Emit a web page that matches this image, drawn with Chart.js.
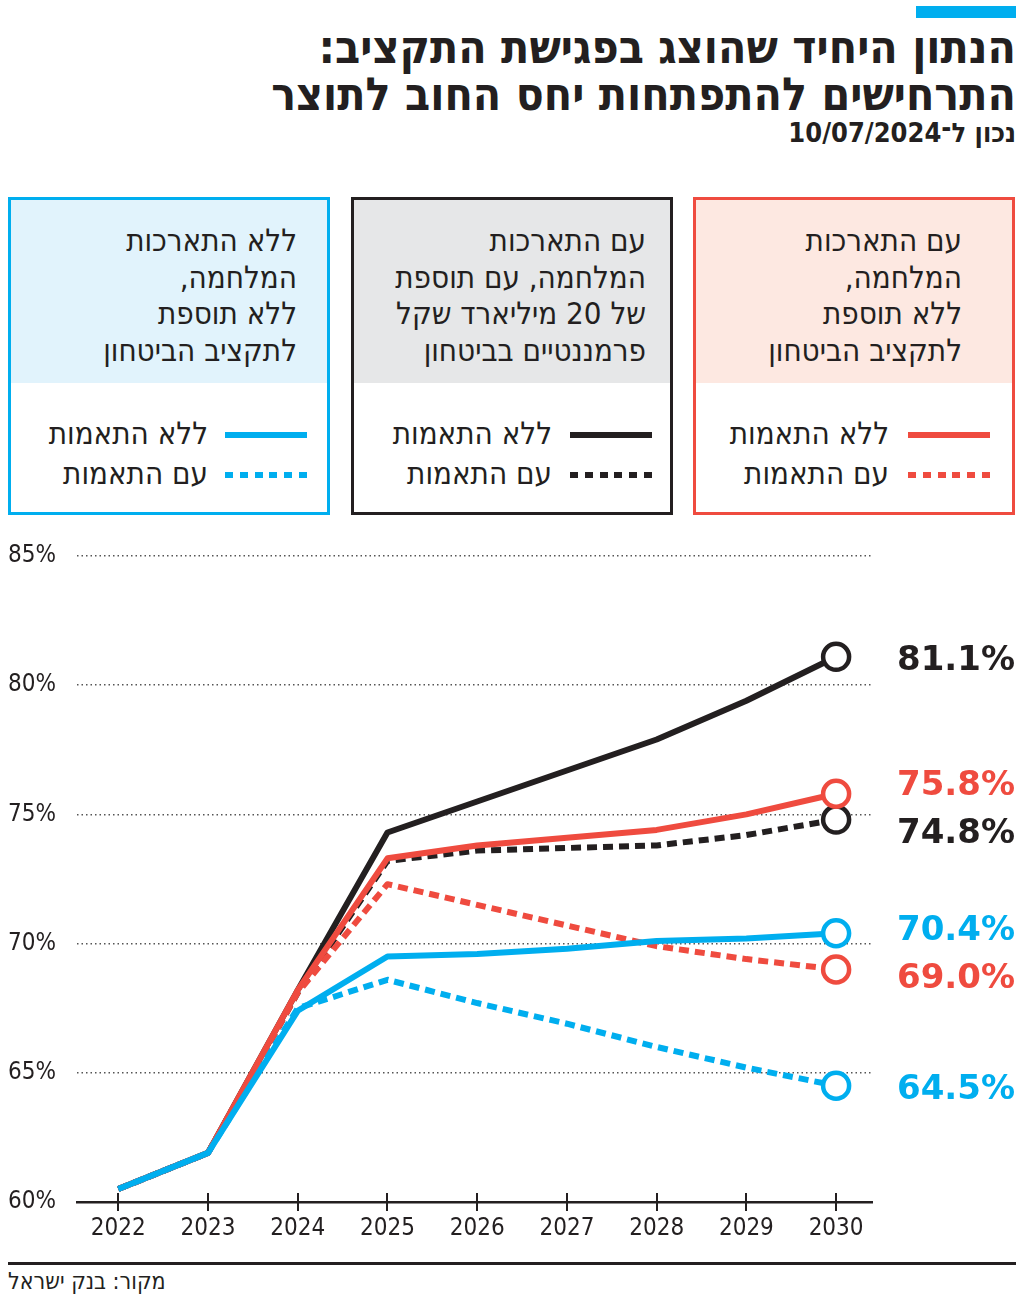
<!DOCTYPE html>
<html lang="he">
<head>
<meta charset="utf-8">
<script src="https://cdn.jsdelivr.net/npm/chart.js@4.4.1/dist/chart.umd.min.js"></script>
<style>
  body { margin: 0; background: #fff; }
  #page { position: relative; width: 1024px; height: 1301px; overflow: hidden; font-family: "DejaVu Sans Condensed", "DejaVu Sans", sans-serif; color: #231f20; }
  .topbar { position: absolute; left: 916px; top: 6px; width: 100px; height: 12px; background: #00aeef; }
  .title { position: absolute; right: 8px; direction: rtl; text-align: right; font-weight: bold; white-space: nowrap; }
  .t1 { top: 22px; font-size: 46px; line-height: 50px; }
  .t2 { top: 69px; font-size: 46px; line-height: 50px; }
  .t3 { top: 117px; font-size: 27px; line-height: 32px; }
  .box { position: absolute; top: 197px; width: 316px; height: 312px; border: 3px solid; box-sizing: content-box; }
  .box .head { position: absolute; left: 0; right: 0; top: 0; height: 183px; }
  .box .desc { position: absolute; top: 22px; direction: rtl; text-align: right; font-size: 31px; line-height: 36.7px; white-space: nowrap; }
  .leg { position: absolute; direction: rtl; font-size: 31px; line-height: 36px; white-space: nowrap; }
  .sample { position: absolute; width: 82px; height: 6px; }
  .src { position: absolute; left: 8px; top: 1268px; direction: rtl; font-size: 23px; }
  .rule { position: absolute; left: 8px; top: 1262px; width: 1008px; height: 3px; background: #231f20; }
  #chartWrap { position: absolute; left: 0; top: 530px; width: 1024px; height: 730px; }
</style>
</head>
<body>
<div id="page">
  <div class="topbar"></div>
  <div class="title t1">הנתון היחיד שהוצג בפגישת התקציב:</div>
  <div class="title t2">התרחישים להתפתחות יחס החוב לתוצר</div>
  <div class="title t3">נכון ל־10/07/2024</div>

  <div class="box" style="left:8px; border-color:#00aeef;">
    <div class="head" style="background:#e1f3fc;"></div>
    <div class="desc" style="right:30px;">ללא התארכות<br>המלחמה,<br>ללא תוספת<br>לתקציב הביטחון</div>
    <div class="sample" style="right:20px; top:232px; background:#00aeef;"></div>
    <div class="leg" style="right:119px; top:215px;">ללא התאמות</div>
    <div class="sample" style="right:20px; top:272px; background:repeating-linear-gradient(90deg,#00aeef 0 8px,transparent 8px 14.8px);"></div>
    <div class="leg" style="right:119px; top:255px;">עם התאמות</div>
  </div>

  <div class="box" style="left:351px; border-color:#231f20;">
    <div class="head" style="background:#e6e7e8;"></div>
    <div class="desc" style="right:24px;">עם התארכות<br>המלחמה, עם תוספת<br>של 20 מיליארד שקל<br>פרמננטיים בביטחון</div>
    <div class="sample" style="right:18px; top:232px; background:#231f20;"></div>
    <div class="leg" style="right:118px; top:215px;">ללא התאמות</div>
    <div class="sample" style="right:18px; top:272px; background:repeating-linear-gradient(90deg,#231f20 0 8px,transparent 8px 14.8px);"></div>
    <div class="leg" style="right:118px; top:255px;">עם התאמות</div>
  </div>

  <div class="box" style="left:693px; border-color:#ef4b3f;">
    <div class="head" style="background:#fde8e1;"></div>
    <div class="desc" style="right:50px;">עם התארכות<br>המלחמה,<br>ללא תוספת<br>לתקציב הביטחון</div>
    <div class="sample" style="right:22px; top:232px; background:#ef4b3f;"></div>
    <div class="leg" style="right:123px; top:215px;">ללא התאמות</div>
    <div class="sample" style="right:22px; top:272px; background:repeating-linear-gradient(90deg,#ef4b3f 0 8px,transparent 8px 14.8px);"></div>
    <div class="leg" style="right:123px; top:255px;">עם התאמות</div>
  </div>

  <div id="chartWrap"><canvas id="chart" width="1024" height="730"></canvas></div>

  <div class="rule"></div>
  <div class="src">מקור: בנק ישראל</div>
</div>

<script>
// נתונים - יחס חוב/תוצר (%)
const years = [2022, 2023, 2024, 2025, 2026, 2027, 2028, 2029, 2030];
const yTicks = [60, 65, 70, 75, 80, 85];

const blackNoAdj = [60.5, 61.9, 68.2, 74.3, 75.5, 76.7, 77.9, 79.4, 81.1];
const blackAdj   = [60.5, 61.9, 68.1, 73.2, 73.6, 73.7, 73.8, 74.2, 74.8];
const redNoAdj   = [60.5, 61.9, 68.2, 73.3, 73.8, 74.1, 74.4, 75.0, 75.8];
const redAdj     = [60.5, 61.9, 68.1, 72.3, 71.5, 70.7, 69.9, 69.4, 69.0];
const blueNoAdj  = [60.5, 61.9, 67.4, 69.5, 69.6, 69.8, 70.1, 70.2, 70.4];
const blueAdj    = [60.5, 61.9, 67.5, 68.6, 67.7, 66.9, 66.0, 65.2, 64.5];

const BLUE = '#00aeef';
const RED = '#ef4b3f';
const BLACK = '#231f20';

function series(values, color, dashed) {
  const last = values.length - 1;
  return {
    data: values.map((v, i) => ({ x: years[i], y: v })),
    borderColor: color,
    backgroundColor: '#fff',
    borderWidth: 6,
    borderDash: dashed ? [10, 6] : [],
    borderJoinStyle: 'round',
    tension: 0,
    pointRadius: values.map((_, i) => i === last ? 13 : 0),
    pointBorderWidth: 4.5,
    pointBorderColor: color,
    pointBackgroundColor: '#fff',
    pointHoverRadius: 0,
  };
}

// סימוני שנתות שחוצים את ציר ה-X
const crossTicks = {
  id: 'crossTicks',
  afterDraw(chart) {
    const { ctx, scales: { x, y } } = chart;
    const base = y.getPixelForValue(60);
    ctx.save();
    ctx.strokeStyle = BLACK;
    ctx.lineWidth = 2;
    years.forEach(yr => {
      const px = Math.round(x.getPixelForValue(yr));
      ctx.beginPath();
      ctx.moveTo(px, base - 9);
      ctx.lineTo(px, base + 9);
      ctx.stroke();
    });
    ctx.restore();
  }
};

// תוויות ערך סופי בצד ימין
const endLabels = {
  id: 'endLabels',
  afterDatasetsDraw(chart) {
    const { ctx } = chart;
    const items = chart.data.datasets.map((ds, i) => {
      const meta = chart.getDatasetMeta(i);
      const pt = meta.data[meta.data.length - 1];
      const val = ds.data[ds.data.length - 1].y;
      return { y: pt.y + 4, text: val.toFixed(1) + '%', color: ds.borderColor };
    }).sort((a, b) => a.y - b.y);

    const gap = 48;
    for (let k = 0; k < 20; k++) {
      for (let i = 1; i < items.length; i++) {
        const d = items[i].y - items[i - 1].y;
        if (d < gap) {
          const push = (gap - d) / 2;
          items[i].y += push;
          items[i - 1].y -= push;
        }
      }
    }

    ctx.save();
    ctx.font = 'bold 34px "DejaVu Sans"';
    ctx.textAlign = 'right';
    ctx.textBaseline = 'middle';
    items.forEach(it => {
      ctx.fillStyle = it.color;
      ctx.fillText(it.text, 1015, it.y);
    });
    ctx.restore();
  }
};

const chart = new Chart(document.getElementById('chart'), {
  type: 'line',
  data: {
    datasets: [
      series(blueNoAdj, BLUE, false),
      series(redNoAdj, RED, false),
      series(blueAdj, BLUE, true),
      series(redAdj, RED, true),
      series(blackNoAdj, BLACK, false),
      series(blackAdj, BLACK, true),
    ]
  },
  options: {
    responsive: false,
    animation: false,
    events: [],
    layout: { padding: { top: 26, right: 152, left: 8, bottom: 0 } },
    plugins: {
      legend: { display: false },
      tooltip: { enabled: false },
    },
    scales: {
      x: {
        type: 'linear',
        min: 2021.54,
        max: 2030.4,
        afterBuildTicks: axis => { axis.ticks = years.map(v => ({ value: v })); },
        afterFit: axis => { axis.height = 58; },
        grid: { display: false, drawTicks: false },
        border: { display: true, color: BLACK, width: 2.5 },
        ticks: {
          padding: 12,
          maxRotation: 0,
          color: BLACK,
          font: { family: '"DejaVu Sans Condensed"', size: 24 },
          callback: v => String(v),
        }
      },
      y: {
        min: 60,
        max: 85,
        afterBuildTicks: axis => { axis.ticks = yTicks.map(v => ({ value: v })); },
        afterFit: axis => { axis.width = 69; },
        border: { display: false, dash: [1.5, 3] },
        grid: {
          color: ctx => ctx.tick && ctx.tick.value === 60 ? 'rgba(0,0,0,0)' : '#555',
          lineWidth: 1.5,
          drawTicks: false,
        },
        ticks: {
          crossAlign: 'far',
          padding: 0,
          color: BLACK,
          font: { family: '"DejaVu Sans Condensed"', size: 24 },
          callback: v => v + '%',
        }
      }
    }
  }
  ,
  plugins: [crossTicks, endLabels]
});
</script>
</body>
</html>
